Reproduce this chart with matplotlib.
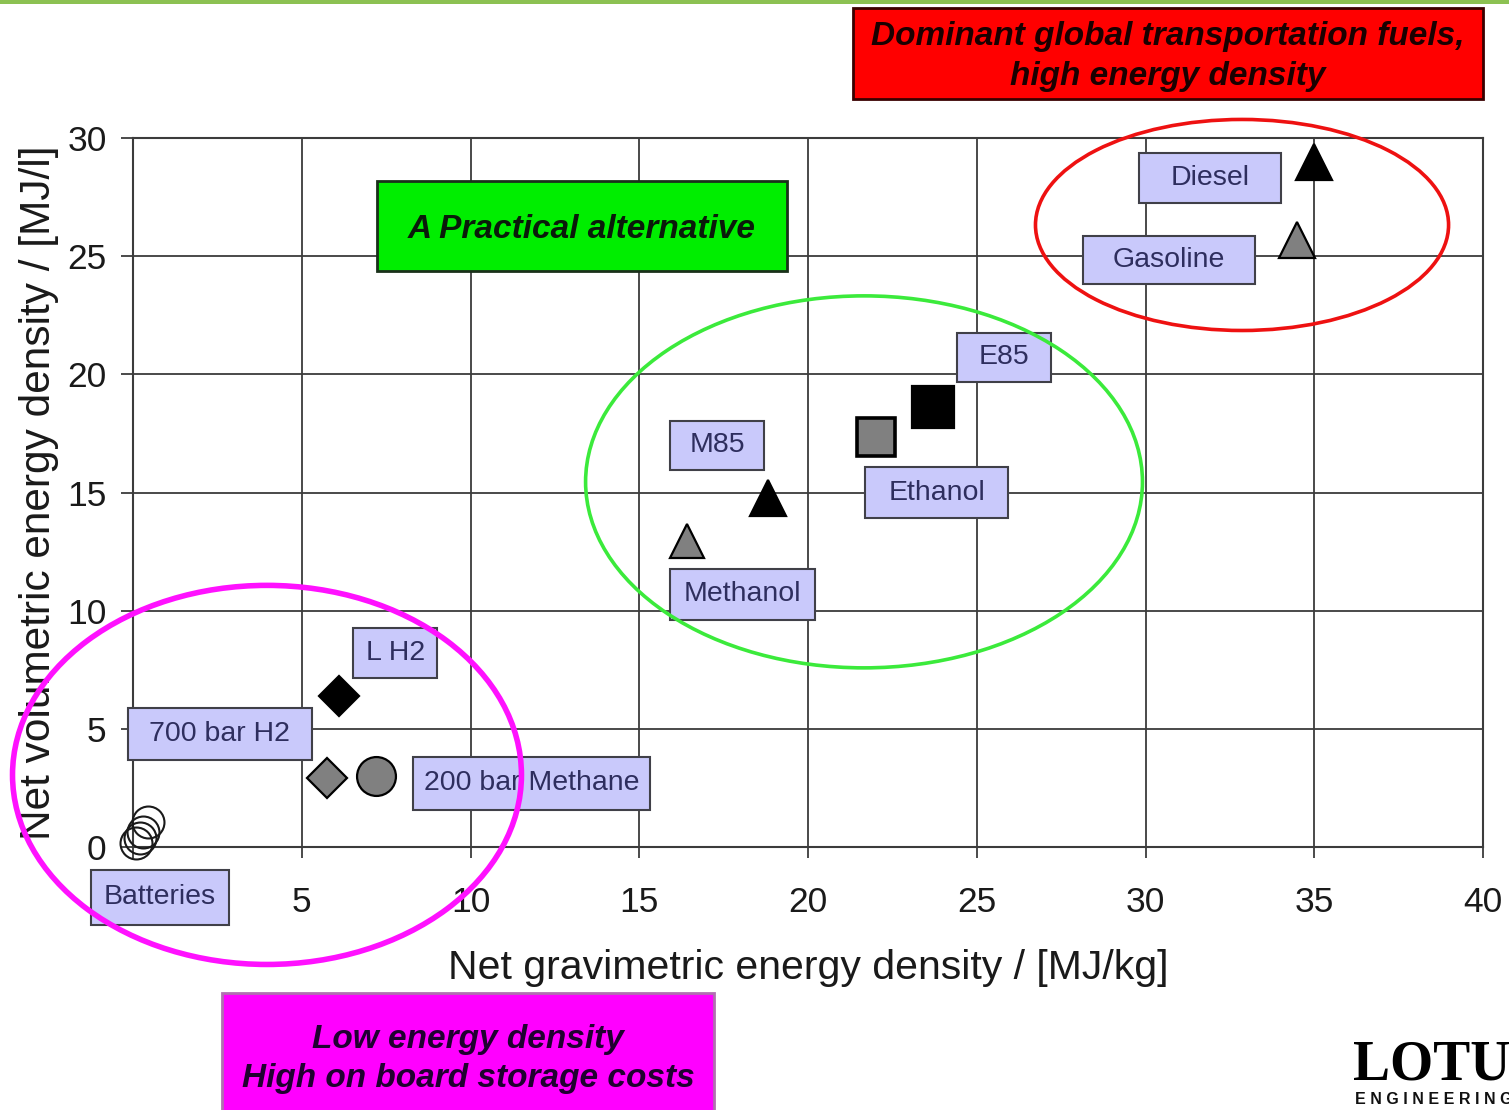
import matplotlib
matplotlib.use("Agg")
import matplotlib.pyplot as plt
from matplotlib.patches import Ellipse, Rectangle

plt.rcParams['font.family'] = ['Liberation Sans', 'DejaVu Sans']

# ---- data: net gravimetric [MJ/kg] vs. net volumetric [MJ/l] energy density
fuels = ["Diesel", "Gasoline", "E85", "Ethanol", "M85", "Methanol",
         "L H2", "700 bar H2", "200 bar Methane"]
gravimetric = [35.0, 34.5, 23.7, 22.0, 18.8, 16.4, 6.1, 5.75, 7.2]
volumetric = [29.0, 25.7, 18.6, 17.35, 14.75, 12.95, 6.4, 2.9, 3.0]

battery_grav = [0.09, 0.21, 0.30, 0.44]
battery_vol = [0.17, 0.38, 0.63, 1.06]

x_ticks = [0, 5, 10, 15, 20, 25, 30, 35, 40]
x_tick_labels = ["", "5", "10", "15", "20", "25", "30", "35", "40"]
y_ticks = [0, 5, 10, 15, 20, 25, 30]
y_tick_labels = ["0", "5", "10", "15", "20", "25", "30"]

# ---- marker styles per fuel
styles = {
    "Diesel":          dict(marker="^", ms=26, mfc="black",   mec="black", mew=1.6),
    "Gasoline":        dict(marker="^", ms=26, mfc="#808080", mec="black", mew=1.6),
    "E85":             dict(marker="s", ms=30, mfc="black",   mec="black", mew=1.6),
    "Ethanol":         dict(marker="s", ms=28, mfc="#808080", mec="black", mew=2.6),
    "M85":             dict(marker="^", ms=26, mfc="black",   mec="black", mew=1.6),
    "Methanol":        dict(marker="^", ms=25, mfc="#808080", mec="black", mew=1.6),
    "L H2":            dict(marker="D", ms=20, mfc="black",   mec="black", mew=1.6),
    "700 bar H2":      dict(marker="D", ms=20, mfc="#808080", mec="black", mew=1.6),
    "200 bar Methane": dict(marker="o", ms=28, mfc="#808080", mec="black", mew=1.6),
}

# label boxes (left, right, bottom, top) in data units
label_boxes = {
    "Diesel":          (29.81, 34.01, 27.25, 29.37),
    "Gasoline":        (28.15, 33.24, 23.83, 25.86),
    "E85":             (24.41, 27.20, 19.68, 21.75),
    "M85":             (15.91, 18.70, 15.95, 18.03),
    "Ethanol":         (21.69, 25.93, 13.92, 16.08),
    "Methanol":        (15.91, 20.21, 9.61, 11.76),
    "L H2":            (6.52, 9.01, 7.15, 9.27),
    "700 bar H2":      (-0.15, 5.30, 3.68, 5.88),
    "200 bar Methane": (8.30, 15.32, 1.57, 3.81),
    "Batteries":       (-1.24, 2.84, -3.30, -0.97),
}

W, H = 1509, 1110
fig = plt.figure(figsize=(W / 100, H / 100), dpi=100)
fig.patch.set_facecolor("white")

# thin green rule across the top of the page
fig.add_artist(Rectangle((0, 1 - 4 / H), 1, 4 / H, transform=fig.transFigure,
                         facecolor="#8cc152", edgecolor="none"))

ax = fig.add_axes([133 / W, 1 - 847 / H, 1350 / W, 709 / H])
ax.set_xlim(0, 40)
ax.set_ylim(0, 30)
ax.set_xticks(x_ticks)
ax.set_yticks(y_ticks)
ax.set_xticklabels(x_tick_labels)
ax.set_yticklabels(y_tick_labels)

grid_col = "#3c3c3c"
ax.set_axisbelow(True)
ax.grid(True, color=grid_col, lw=1.3)
for sp in ax.spines.values():
    sp.set_color(grid_col)
    sp.set_linewidth(1.5)
ax.tick_params(axis="x", direction="out", length=8, width=1.3, color=grid_col,
               pad=20, labelsize=25.5, labelcolor="#1a1a1a")
ax.tick_params(axis="y", direction="out", length=9, width=1.3, color=grid_col,
               pad=10, labelsize=25.5, labelcolor="#1a1a1a")

ax.set_xlabel("Net gravimetric energy density / [MJ/kg]", fontsize=29.5,
              color="#1a1a1a", labelpad=22)
ax.set_ylabel("Net volumetric energy density / [MJ/l]", fontsize=30.5,
              color="#1a1a1a", labelpad=6)

# fuel markers
for name, gx, vy in zip(fuels, gravimetric, volumetric):
    ax.plot([gx], [vy], linestyle="none", zorder=4, clip_on=False,
            **styles[name])

# batteries: open circles
ax.plot(battery_grav, battery_vol, linestyle="none", marker="o", ms=23,
        mfc="none", mec="#1a1a1a", mew=1.5, zorder=4, clip_on=False)

# label boxes
for name, (l, r, b, t) in label_boxes.items():
    ax.add_patch(Rectangle((l, b), r - l, t - b, facecolor="#c9c9fb",
                           edgecolor="#404048", lw=1.5, zorder=5, clip_on=False))
    ax.text((l + r) / 2, (b + t) / 2, name, ha="center", va="center",
            fontsize=20.5, color="#2e2e5e", zorder=6, clip_on=False)

# grouping ellipses (center x, center y, width, height) in data units
ax.add_patch(Ellipse((32.86, 26.32), 12.24, 8.93, fill=False, edgecolor="#ee1111",
                     lw=2.6, zorder=7, clip_on=False))
ax.add_patch(Ellipse((21.66, 15.45), 16.5, 15.74, fill=False, edgecolor="#3bea3b",
                     lw=2.6, zorder=7, clip_on=False))
ax.add_patch(Ellipse((3.97, 3.05), 15.08, 16.04, fill=False, edgecolor="#ff11ff",
                     lw=4.0, zorder=7, clip_on=False))


def fig_box(x0, y0, x1, y1, face, edge, lines, text_col, line_gap, dy=0):
    """Draw a filled callout box given in pixel coordinates (top-left origin)."""
    fig.add_artist(Rectangle((x0 / W, 1 - y1 / H), (x1 - x0) / W, (y1 - y0) / H,
                             transform=fig.transFigure, facecolor=face,
                             edgecolor=edge, lw=2.0, zorder=10))
    cx = (x0 + x1) / 2
    cy = (y0 + y1) / 2 + dy
    n = len(lines)
    for i, txt in enumerate(lines):
        yy = cy + (i - (n - 1) / 2) * line_gap
        fig.text(cx / W, 1 - yy / H, txt, ha="center", va="center",
                 fontsize=24, fontweight="bold", fontstyle="italic",
                 color=text_col, zorder=11)


fig_box(853, 8, 1483, 99, "#ff0000", "#3a0000",
        ["Dominant global transportation fuels,", "high energy density"],
        "#1a0000", 39, dy=3)
fig_box(377, 181, 787, 271, "#00ee00", "#1a301a",
        ["A Practical alternative"], "#0a1a0a", 0, dy=4)
fig_box(222, 993, 714, 1125, "#ff00ff", "#b070b0",
        ["Low energy density", "High on board storage costs"],
        "#200030", 39, dy=-4 + 4)

# company logo in the bottom-right corner
fig.text(1353 / W, 1 - 1080 / H, "LOTUS", ha="left", va="baseline",
         fontsize=40, fontweight="bold", family=["Liberation Serif", "DejaVu Serif"],
         color="black")
fig.text(1355 / W, 1 - 1104 / H, "E N G I N E E R I N G", ha="left",
         va="baseline", fontsize=11.5, fontweight="bold", color="#111111")

fig.savefig("out.png", dpi=100, facecolor="white")
